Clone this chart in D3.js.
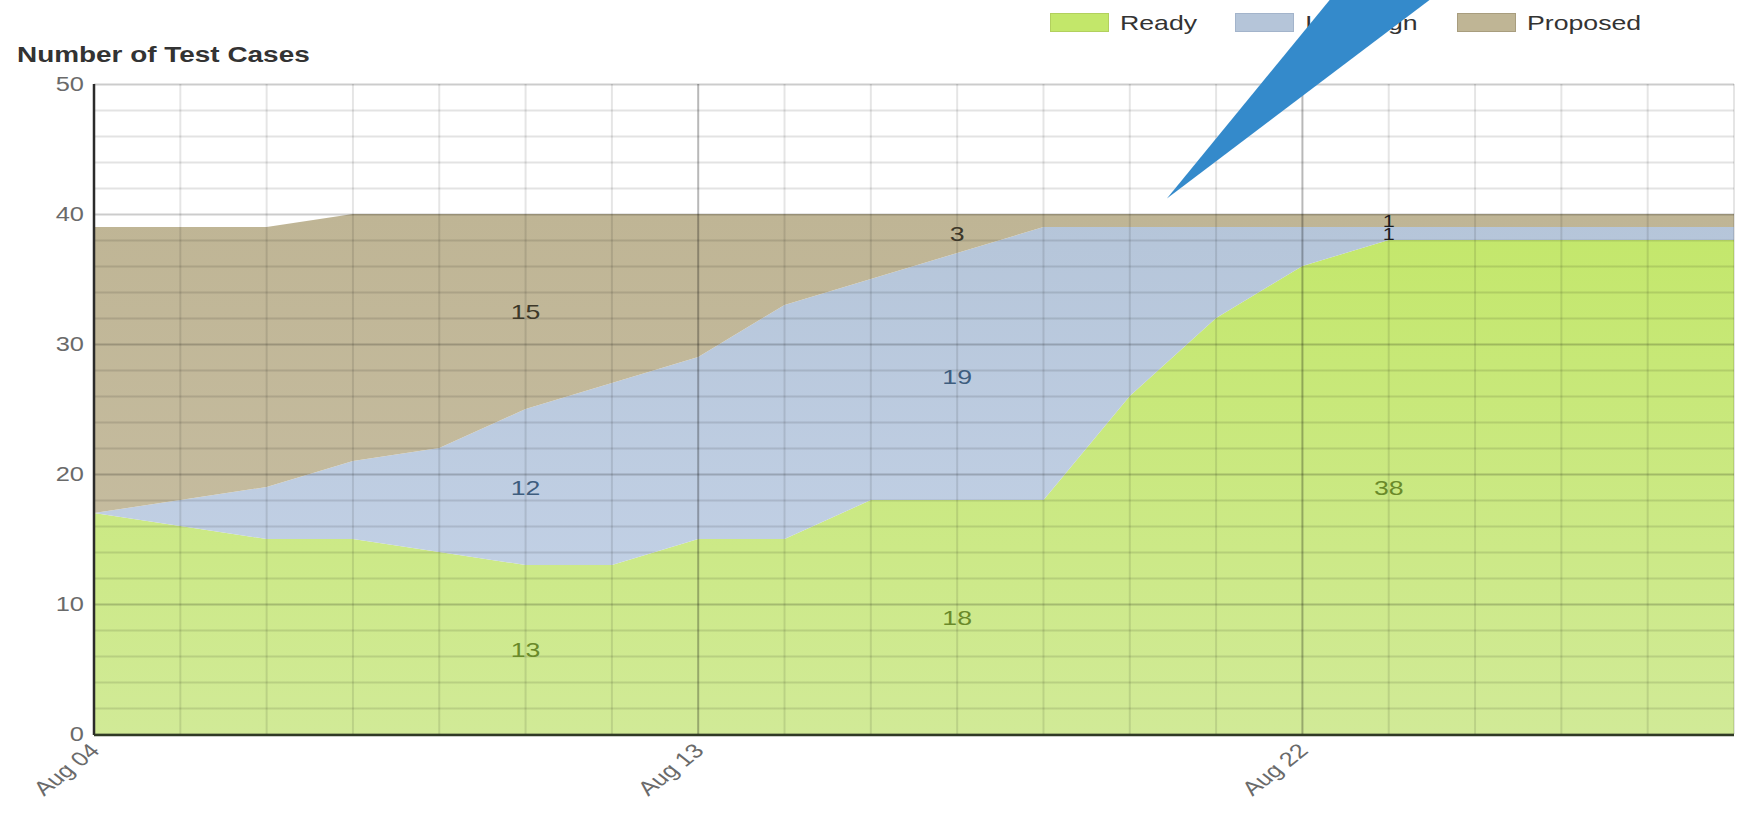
<!DOCTYPE html>
<html>
<head>
  <meta charset="utf-8" />
  <title>Number of Test Cases</title>
  <script src="https://d3js.org/d3.v7.min.js"></script>
  <style>
    body { margin: 0; background: #fff; overflow: hidden; }
    text { font-family: 'Liberation Sans', Arial, sans-serif; }
  </style>
</head>
<body>
  <div id="graph"></div>
<script>
  // business days on the x axis (weekends skipped)
  var days = ['Aug 04', 'Aug 05', 'Aug 06', 'Aug 07', 'Aug 08', 'Aug 11', 'Aug 12', 'Aug 13', 'Aug 14', 'Aug 15',
              'Aug 18', 'Aug 19', 'Aug 20', 'Aug 21', 'Aug 22', 'Aug 25', 'Aug 26', 'Aug 27', 'Aug 28', 'Aug 29']
  var tickDays = ['Aug 04', 'Aug 13', 'Aug 22']
  var labelDays = ['Aug 11', 'Aug 18', 'Aug 25']

  var ready    = [17, 16, 15, 15, 14, 13, 13, 15, 15, 18, 18, 18, 26, 32, 36, 38, 38, 38, 38, 38]
  var inDesign = [0, 2, 4, 6, 8, 12, 14, 14, 18, 17, 19, 21, 13, 7, 3, 1, 1, 1, 1, 1]
  var proposed = [22, 21, 20, 19, 18, 15, 13, 11, 7, 5, 3, 1, 1, 1, 1, 1, 1, 1, 1, 1]

  var seriesNames = ['Ready', 'In Design', 'Proposed']
  var yTicks = [0, 10, 20, 30, 40, 50]
  var yGrid = d3.range(0, 51, 2)

  // blue pointer drawn over the chart, in (day index, value) units
  var pointer = [[12.43, 41.2], [14.32, 56.5], [15.48, 56.5]]

  var width = 1737, height = 815
  var plotLeft = 94, plotRight = 1734, plotTop = 84, plotBottom = 734
  var sx = 1.27 // the picture is stretched sideways, so the text is too

  var fills = {
    'Ready':     ['#c3e76a', '#d1ea97', '#b2d05e', '#6a8a2a'],
    'In Design': ['#b5c5d9', '#c7d5ea', '#a3b4cb', '#3e5d7e'],
    'Proposed':  ['#bfb595', '#c9c0a5', '#a89d7e', '#3d3829']
  }

  var rows = days.map(function (d, i) {
    return {day: d, 'Ready': ready[i], 'In Design': inDesign[i], 'Proposed': proposed[i]}
  })

  var x = d3.scalePoint().domain(days).range([plotLeft, plotRight])
  var xi = d3.scaleLinear().domain([0, days.length - 1]).range([plotLeft, plotRight])
  var y = d3.scaleLinear().domain([0, 50]).range([plotBottom, plotTop])

  var stacked = d3.stack().keys(seriesNames)(rows)

  var svg = d3.select('#graph').append('svg')
    .attr('width', width)
    .attr('height', height)
    .style('display', 'block')

  var defs = svg.append('defs')
  seriesNames.forEach(function (name, i) {
    var g = defs.append('linearGradient')
      .attr('id', 'grad' + i)
      .attr('gradientUnits', 'userSpaceOnUse')
      .attr('x1', 0).attr('x2', 0)
      .attr('y1', y(40)).attr('y2', y(0))
    g.append('stop').attr('offset', 0).attr('stop-color', fills[name][0])
    g.append('stop').attr('offset', 1).attr('stop-color', fills[name][1])
  })

  // stacked areas
  var area = d3.area()
    .x(function (d) { return x(d.data.day) })
    .y0(function (d) { return y(d[0]) })
    .y1(function (d) { return y(d[1]) })

  svg.append('g').selectAll('path')
    .data(stacked)
    .enter()
    .append('path')
    .attr('fill', function (d, i) { return 'url(#grad' + i + ')' })
    .attr('d', area)

  // grid on top of the fills
  var grid = svg.append('g')
  grid.selectAll('.hg')
    .data(yGrid)
    .enter()
    .append('line')
    .attr('x1', plotLeft).attr('x2', plotRight)
    .attr('y1', function (d) { return y(d) + 0.5 })
    .attr('y2', function (d) { return y(d) + 0.5 })
    .attr('stroke', '#000')
    .attr('stroke-opacity', function (d) { return d % 10 === 0 ? 0.2 : 0.11 })
    .attr('stroke-width', 2)

  grid.selectAll('.vg')
    .data(days)
    .enter()
    .append('line')
    .attr('x1', function (d) { return x(d) })
    .attr('x2', function (d) { return x(d) })
    .attr('y1', plotTop).attr('y2', plotBottom)
    .attr('stroke', '#000')
    .attr('stroke-opacity', function (d) { return tickDays.indexOf(d) >= 0 ? 0.28 : 0.1 })
    .attr('stroke-width', 2)

  // axis lines
  svg.append('line')
    .attr('x1', plotLeft).attr('x2', plotLeft).attr('y1', plotTop).attr('y2', plotBottom + 1)
    .attr('stroke', '#2b2b2b').attr('stroke-width', 2.5)
  svg.append('line')
    .attr('x1', plotLeft).attr('x2', plotRight).attr('y1', plotBottom + 1).attr('y2', plotBottom + 1)
    .attr('stroke', '#2f3a25').attr('stroke-width', 2.5)

  // y tick labels
  svg.append('g').selectAll('text')
    .data(yTicks)
    .enter()
    .append('text')
    .attr('transform', function (d) { return 'translate(' + (plotLeft - 10) + ',' + y(d) + ') scale(' + sx + ',1)' })
    .attr('dy', '0.36em')
    .attr('text-anchor', 'end')
    .attr('font-size', 20)
    .attr('fill', '#6a6a6a')
    .text(function (d) { return d })

  // x tick labels, slanted
  svg.append('g').selectAll('text')
    .data(tickDays)
    .enter()
    .append('text')
    .attr('transform', function (d) { return 'translate(' + (x(d) + 7) + ',' + (plotBottom + 18) + ') scale(' + sx + ',1) rotate(-45)' })
    .attr('text-anchor', 'end')
    .attr('font-size', 20)
    .attr('fill', '#6a6a6a')
    .text(function (d) { return d })

  // values written inside each band
  var labels = []
  stacked.forEach(function (s) {
    labelDays.forEach(function (day) {
      var i = days.indexOf(day)
      var v = s[i][1] - s[i][0]
      if (v > 0) labels.push({name: s.key, day: day, value: v, mid: (s[i][0] + s[i][1]) / 2})
    })
  })

  svg.append('g').selectAll('text')
    .data(labels)
    .enter()
    .append('text')
    .attr('transform', function (d) { return 'translate(' + x(d.day) + ',' + y(d.mid) + ') scale(' + sx + ',1)' })
    .attr('dy', '0.36em')
    .attr('text-anchor', 'middle')
    .attr('font-size', function (d) { return d.value === 1 ? 17 : 21 })
    .attr('fill', function (d) { return d.value === 1 ? '#1d1d1d' : fills[d.name][3] })
    .text(function (d) { return d.value })

  // title
  svg.append('text')
    .attr('transform', 'translate(17,62) scale(' + sx + ',1)')
    .attr('font-size', 22)
    .attr('font-weight', 'bold')
    .attr('fill', '#333')
    .text('Number of Test Cases')

  // legend
  var legendX = [1050, 1235, 1457]
  var legend = svg.append('g').selectAll('g')
    .data(seriesNames)
    .enter()
    .append('g')
    .attr('transform', function (d, i) { return 'translate(' + legendX[i] + ',13)' })

  legend.append('rect')
    .attr('x', 0.5).attr('y', 0.5)
    .attr('width', 58).attr('height', 18)
    .attr('fill', function (d) { return fills[d][0] })
    .attr('stroke', function (d) { return fills[d][2] })

  legend.append('text')
    .attr('transform', 'translate(70,17) scale(' + sx + ',1)')
    .attr('font-size', 21)
    .attr('fill', '#333')
    .text(function (d) { return d })

  // blue pointer overlay
  svg.append('path')
    .attr('d', d3.line()
      .x(function (d) { return xi(d[0]) })
      .y(function (d) { return y(d[1]) })(pointer) + 'Z')
    .attr('fill', '#348acb')
</script>
</body>
</html>
